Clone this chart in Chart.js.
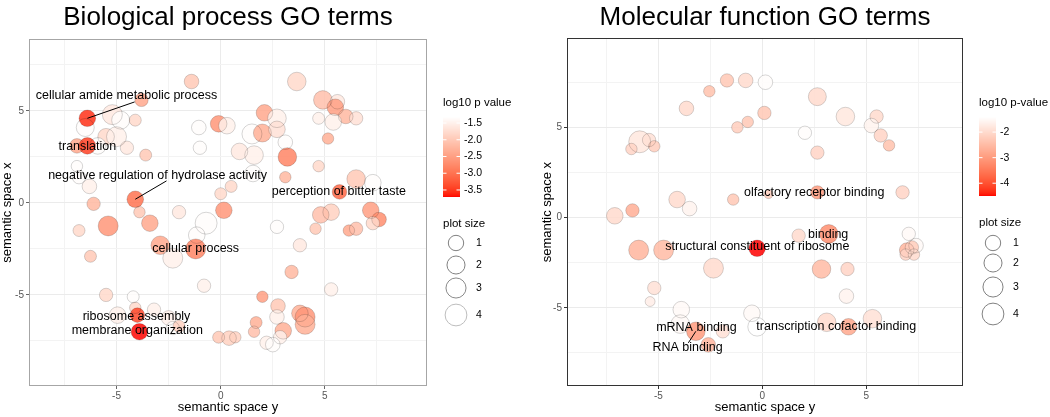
<!DOCTYPE html>
<html>
<head>
<meta charset="utf-8">
<script src="https://cdn.jsdelivr.net/npm/chart.js@4.4.1/dist/chart.umd.min.js"></script>
<style>
body { margin: 0; background: #fff; }
#wrap { position: relative; width: 1050px; height: 417px; }
canvas { position: absolute; top: 0; }
</style>
</head>
<body>
<div id="wrap">
  <canvas id="bp" width="525" height="417" style="left:0"></canvas>
  <canvas id="mf" width="525" height="417" style="left:525px"></canvas>
</div>
<script>
var FONT = "'Liberation Sans', Arial, Helvetica, sans-serif";

// Biological process GO terms (labelled terms are the last 7 points)
var bpX = [-1.4, -3.8, -6.5, -5.2, -4.8, -4.1, -6.9, -5.5, -5.0, -4.5, -5.9, -6.9, -3.6, -6.3, -6.8, -6.1,
  -3.9, -2.0, -0.7, -1.0, -1.05, -0.1, 0.3, 1.5, 2.0, 2.1, 0.9, 1.6, 1.55, 0.5, 0.0, 0.15, -1.15,
  3.65, 4.9, 5.6, 5.5, 6.0, 5.4, 4.7, 6.5, 5.15, 2.7, 2.7, 3.1, 3.2, 4.7, 3.1, 6.5, 7.3, 7.2, 7.6, 5.3, 4.8, 2.7,
  -6.8, -5.4, -3.4, -2.9, -2.3, -6.25, -0.8, -5.5, -4.2, -4.1, -3.2, -4.95, -2.5, -2.3, -2.0,
  -0.1, 0.4, 0.7, 1.7, 1.6, 2.0, 2.75, 2.7, 3.0, 2.85, 2.2, 2.5, 3.8, 4.05, 4.05, 5.3, 3.4, 3.8, 4.55, 6.15, 6.5, 7.3,
  -6.4, -6.4, -4.1, 5.7, -1.2, -4.0, -3.9];
var bpY = [6.6, 5.6, 4.1, 4.8, 4.5, 4.5, 3.1, 3.6, 3.6, 3.0, 3.1, 2.0, 2.6, 0.9, 1.4, -0.05,
  -0.5, -0.5, -1.1, 3.0, 4.1, 4.3, 4.2, 3.75, 3.8, 4.9, 2.8, 2.6, 1.6, 0.9, 0.5, -0.4, -1.75,
  6.6, 5.6, 5.5, 5.2, 4.7, 4.4, 4.6, 4.6, 3.5, 4.6, 4.0, 3.3, 2.5, 2.0, 1.4, 1.3, 1.1, -0.4, -0.9, -0.5, -0.65, -1.3,
  -1.5, -1.25, -1.1, -2.3, -3.0, -2.9, -4.5, -5.0, -5.1, -5.7, -5.8, -6.1, -6.25, -6.8, -6.7,
  -7.3, -7.35, -7.3, -6.5, -7.0, -5.1, -5.6, -6.2, -6.95, -7.3, -7.6, -7.7, -6.0, -6.2, -6.6, -4.7, -3.75, -2.3, -1.4, -1.5, -1.4, -1.1,
  4.6, 3.1, 0.2, 0.6, -2.5, -6.1, -7.0];
var bpLogP = [-2.0, -2.4, -1.35, -1.6, -1.35, -1.8, -2.4, -1.8, -1.5, -1.6, -1.35, -1.35, -2.0, -1.5, -1.35, -2.2,
  -2.0, -1.6, -1.35, -1.35, -1.35, -2.6, -1.5, -1.35, -2.3, -2.4, -1.6, -1.5, -1.35, -1.8, -1.8, -2.6, -1.35,
  -1.8, -2.1, -1.6, -2.5, -2.2, -1.5, -1.5, -1.7, -2.3, -1.5, -1.7, -1.35, -2.8, -1.8, -2.2, -2.0, -1.35, -2.5, -2.7, -1.9, -2.1, -1.35,
  -1.8, -2.6, -2.4, -2.4, -1.5, -2.0, -1.5, -1.8, -1.35, -1.8, -1.5, -1.5, -1.5, -1.35, -1.9,
  -2.0, -1.9, -1.9, -2.3, -2.1, -2.5, -2.0, -1.5, -2.3, -1.5, -1.5, -1.35, -2.3, -2.6, -2.3, -1.5, -2.2, -1.6, -2.0, -2.4, -2.1, -1.8,
  -3.55, -3.45, -3.0, -3.1, -2.8, -3.4, -3.7];
var bpSize = [0.77, 0.47, 1.98, 2.95, 1.98, 0.22, 0.77, 1.41, 2.95, 0.47, 1.41, 0.15, 0.22, 0.77, 0.47, 0.47,
  0.15, 0.47, 4.1, 0.47, 0.77, 1.41, 1.41, 2.95, 1.98, 1.41, 1.41, 2.25, 1.41, 0.22, 0.22, 1.41, 1.41,
  2.25, 2.25, 0.77, 1.41, 0.77, 1.41, 0.22, 0.47, 0.15, 2.25, 1.41, 0.77, 2.25, 0.15, 0.15, 2.25, 1.41, 1.41, 0.77, 1.41, 1.41, 0.47,
  0.22, 2.95, 1.41, 2.25, 2.95, 0.22, 0.47, 0.47, 0.22, 0.15, 0.47, 1.41, 0.77, 0.47, 0.22,
  0.22, 0.77, 0.15, 0.22, 0.15, 0.15, 0.77, 0.77, 1.41, 0.47, 0.47, 0.77, 1.41, 2.95, 2.95, 0.47, 0.47, 0.47, 0.15, 0.15, 0.47, 0.47,
  1.41, 1.41, 1.41, 0.77, 2.95, 0.77, 1.41];
var bpLabelText = ["cellular amide metabolic process", "translation", "negative regulation of hydrolase activity",
  "perception of bitter taste", "cellular process", "ribosome assembly", "membrane organization"];
var bpLabelX = [-4.52, -6.4, -3.03, 5.67, -1.2, -4.04, -4.0];
var bpLabelY = [5.82, 3.04, 1.47, 0.6, -2.5, -6.2, -6.96];
var bpSegX = [-4.13, null, -2.6, null, null, null, null];
var bpSegY = [5.49, null, 1.2, null, null, null, null];
var bpColorTicks = ["-1.5", "-2.0", "-2.5", "-3.0", "-3.5"];

// Molecular function GO terms (labelled terms are the last 6 points)
var mfX = [-1.7, -0.8, 0.15, -2.55, -3.65, 0.1, -1.2, -0.7, -5.9, -5.45, -5.2, -6.3, -4.1, -3.5, -1.4, 0.3, -7.1, -6.25,
  2.65, 4.0, 2.05, 5.5, 5.25, 5.7, 6.1, 2.65, 6.75, -5.95, -4.75, -2.35, -5.2, -5.4, -3.9, -3.95, -1.9, -0.5, -0.25,
  1.75, 2.85, 4.1, 4.05, 7.05, 7.4, 6.95, 7.2, 6.9, 7.3, 3.1, 5.3,
  2.65, 3.2, -0.25, -2.6, -3.2, 4.15];
var mfY = [7.6, 7.6, 7.5, 7.0, 6.05, 5.8, 5.0, 5.3, 4.2, 4.3, 3.95, 3.8, 1.0, 0.5, 1.0, 1.3, 0.1, 0.4,
  6.7, 5.6, 4.7, 5.6, 5.1, 4.55, 4.0, 3.6, 1.4, -1.8, -1.8, -2.8, -3.9, -4.65, -5.1, -5.9, -6.3, -5.3, -6.05,
  -1.0, -2.85, -2.85, -4.35, -0.9, -1.55, -1.8, -1.65, -2.05, -2.05, -5.8, -5.6,
  1.4, -0.9, -1.7, -7.05, -6.3, -6.05];
var mfLogP = [-2.3, -2.0, -1.45, -2.4, -2.0, -2.3, -2.2, -2.3, -1.8, -1.9, -2.2, -2.1, -2.0, -1.6, -2.3, -2.2, -2.0, -2.7,
  -2.0, -1.8, -1.45, -2.0, -1.6, -2.1, -2.4, -2.1, -2.1, -2.6, -2.5, -2.0, -1.9, -1.7, -1.5, -1.5, -1.9, -1.5, -1.41,
  -2.0, -2.5, -2.1, -1.6, -1.5, -1.5, -2.6, -2.2, -2.1, -2.0, -2.0, -1.9,
  -3.0, -3.2, -4.5, -2.6, -3.0, -2.8];
var mfSize = [0.47, 0.77, 0.77, 0.15, 0.77, 0.47, 0.15, 0.15, 4.1, 0.47, 0.15, 0.15, 1.41, 0.77, 0.15, 0.0, 1.41, 0.47,
  1.98, 2.25, 0.47, 0.47, 0.77, 0.47, 0.15, 0.47, 0.47, 2.95, 2.95, 2.95, 0.47, 0.02, 1.41, 2.25, 0.47, 1.41, 2.25,
  0.47, 2.25, 0.47, 0.77, 0.47, 0.77, 0.77, 0.47, 0.15, 0.15, 2.25, 2.25,
  0.47, 2.25, 1.41, 0.77, 2.25, 1.41];
var mfLabelText = ["olfactory receptor binding", "binding", "structural constituent of ribosome",
  "mRNA binding", "RNA binding", "transcription cofactor binding"];
var mfLabelX = [2.5, 3.17, -0.24, -3.17, -3.6, 3.56];
var mfLabelY = [1.39, -0.94, -1.61, -6.11, -7.22, -6.06];
var mfSegX = [null, null, null, null, -3.56, null];
var mfSegY = [null, null, null, null, -6.94, null];
var mfColorTicks = ["-2", "-3", "-4"];

var sizeLegend = [1, 2, 3, 4];

function radius(s) { return 4.5 + 3.2 * Math.sqrt(Math.max(s, 0)); }

// white -> red gradient in Lab space (as ggplot does)
function lab2rgb(L, a, b) {
  var y = (L + 16) / 116, x = a / 500 + y, z = y - b / 200;
  function f(t) { return t * t * t > 0.008856 ? t * t * t : (t - 16 / 116) / 7.787; }
  x = 0.95047 * f(x); y = f(y); z = 1.08883 * f(z);
  var r = x * 3.2406 - y * 1.5372 - z * 0.4986;
  var g = -x * 0.9689 + y * 1.8758 + z * 0.0415;
  var bl = x * 0.0557 - y * 0.2040 + z * 1.0570;
  function gam(c) {
    c = c > 0.0031308 ? 1.055 * Math.pow(c, 1 / 2.4) - 0.055 : 12.92 * c;
    return Math.round(Math.max(0, Math.min(1, c)) * 255);
  }
  return [gam(r), gam(g), gam(bl)];
}
function fillColor(v, lo, hi, alpha) {
  var t = Math.max(0, Math.min(1, (hi - v) / (hi - lo)));
  var c = lab2rgb(100 - 46.76 * t, 80.09 * t, 67.20 * t);
  return 'rgba(' + c[0] + ',' + c[1] + ',' + c[2] + ',' + alpha + ')';
}

function axis(min, max, title, isY, width, tickColor) {
  var major = function (ctx) { return ctx.tick && ctx.tick.value % 5 === 0; };
  return {
    type: 'linear', min: min, max: max,
    afterBuildTicks: function (s) {
      s.ticks = [-7.5, -5, -2.5, 0, 2.5, 5, 7.5].map(function (v) { return {value: v}; });
    },
    afterFit: function (s) { if (isY) s.width = width; else s.height = 31; },
    ticks: {
      color: '#555', font: {size: 10, family: FONT}, padding: isY ? 2 : 1,
      autoSkip: false, maxRotation: 0,
      callback: function (v) { return v % 5 === 0 ? String(v) : ''; }
    },
    grid: {
      color: function (ctx) { return major(ctx) ? '#EBEBEB' : '#F3F3F3'; },
      lineWidth: 1, tickLength: 3,
      tickColor: function (ctx) { return major(ctx) ? tickColor : 'rgba(0,0,0,0)'; }
    },
    border: {display: false},
    title: {display: true, text: title, color: '#000', font: {size: 13, family: FONT},
      padding: isY ? {top: 0, bottom: 0} : {top: 0, bottom: 2}}
  };
}

function makeChart(id, d, lay) {
  var n = d.x.length, nl = d.labels.length;
  function pts() { return d.x.map(function (x, i) { return {x: x, y: d.y[i], r: radius(d.size[i])}; }); }
  var fills = d.logp.map(function (v) { return fillColor(v, d.pmin, d.pmax, 0.85); });

  var overlay = {
    id: 'overlay',
    afterDatasetsDraw: function (chart) {
      var c = chart.ctx, a = chart.chartArea, xs = chart.scales.x, ys = chart.scales.y;
      c.save();
      c.strokeStyle = lay.frame; c.lineWidth = 1;
      c.strokeRect(Math.round(a.left) + 0.5, Math.round(a.top) + 0.5,
        Math.round(a.right - a.left) - 1, Math.round(a.bottom - a.top) - 1);
      c.strokeStyle = '#000'; c.lineWidth = 1;
      for (var i = 0; i < nl; i++) {
        if (d.segX[i] === null) continue;
        var p = n - nl + i;
        c.beginPath();
        c.moveTo(xs.getPixelForValue(d.x[p]), ys.getPixelForValue(d.y[p]));
        c.lineTo(xs.getPixelForValue(d.segX[i]), ys.getPixelForValue(d.segY[i]));
        c.stroke();
      }
      c.fillStyle = '#000'; c.font = '12.5px ' + FONT;
      c.textAlign = 'center'; c.textBaseline = 'middle';
      for (i = 0; i < nl; i++) {
        c.fillText(d.labels[i], xs.getPixelForValue(d.labelX[i]), ys.getPixelForValue(d.labelY[i]));
      }
      c.restore();
    },
    afterDraw: function (chart) {
      var c = chart.ctx, top = 117, h = lay.cbBottom - top, w = 17, x0 = lay.legX;
      c.save();
      c.textAlign = 'left'; c.textBaseline = 'middle';
      c.fillStyle = '#000'; c.font = '11.5px ' + FONT;
      c.fillText(d.cbTitle, x0, 103);
      for (var k = 0; k < h; k++) {
        var v = d.pmax - (k + 0.5) / h * (d.pmax - d.pmin);
        c.fillStyle = fillColor(v, d.pmin, d.pmax, 1);
        c.fillRect(x0, top + k, w, 1);
      }
      c.font = '10.5px ' + FONT;
      d.cbTicks.forEach(function (lab) {
        var y = top + (d.pmax - parseFloat(lab)) / (d.pmax - d.pmin) * h;
        c.strokeStyle = '#fff'; c.lineWidth = 1;
        c.beginPath();
        c.moveTo(x0, y); c.lineTo(x0 + 3.5, y);
        c.moveTo(x0 + w - 3.5, y); c.lineTo(x0 + w, y);
        c.stroke();
        c.fillStyle = '#000';
        c.fillText(lab, x0 + 21, y);
      });
      c.font = '11.5px ' + FONT;
      c.fillText('plot size', x0, lay.sizeTitleY);
      sizeLegend.forEach(function (s, j) {
        c.beginPath();
        c.arc(x0 + lay.circDx, lay.circY[j], radius(s), 0, Math.PI * 2);
        c.strokeStyle = lay.circColor[j]; c.lineWidth = 1;
        c.stroke();
        c.fillStyle = '#000'; c.font = '10.5px ' + FONT;
        c.fillText(String(s), x0 + lay.circDx + 20, lay.circY[j]);
      });
      c.restore();
    }
  };

  return new Chart(document.getElementById(id), {
    type: 'bubble',
    data: {
      datasets: [
        {data: pts(), backgroundColor: 'rgba(0,0,0,0)', borderColor: 'rgba(0,0,0,0.16)', borderWidth: 1},
        {data: pts(), backgroundColor: fills, borderWidth: 0}
      ]
    },
    options: {
      responsive: false, animation: false, events: [],
      layout: {padding: {left: lay.padLeft, right: lay.padRight, top: 0, bottom: 0}},
      plugins: {
        legend: {display: false},
        tooltip: {enabled: false},
        title: {display: true, text: d.title, fullSize: false, color: '#000',
          font: {size: 26, family: FONT, weight: 'normal'}, padding: {top: 2, bottom: lay.titleGap}}
      },
      scales: {
        x: axis(d.xmin, d.xmax, 'semantic space y', false, 0, lay.tick),
        y: axis(d.ymin, d.ymax, 'semantic space x', true, lay.yWidth, lay.tick)
      }
    },
    plugins: [overlay]
  });
}

makeChart('bp', {
  title: 'Biological process GO terms', cbTitle: 'log10 p value',
  x: bpX, y: bpY, logp: bpLogP, size: bpSize,
  labels: bpLabelText, labelX: bpLabelX, labelY: bpLabelY, segX: bpSegX, segY: bpSegY,
  cbTicks: bpColorTicks, pmin: -3.71, pmax: -1.32,
  xmin: -9.2, xmax: 9.9, ymin: -9.95, ymax: 8.9
}, {
  padLeft: 0, yWidth: 29, padRight: 98, titleGap: 6, frame: '#A6A6A6', tick: '#666',
  legX: 443, cbBottom: 197, sizeTitleY: 224, circDx: 13, circY: [243, 265, 288, 315],
  circColor: ['#808080', '#808080', '#8a8a8a', '#bdbdbd']
});

makeChart('mf', {
  title: 'Molecular function GO terms', cbTitle: 'log10 p-value',
  x: mfX, y: mfY, logp: mfLogP, size: mfSize,
  labels: mfLabelText, labelX: mfLabelX, labelY: mfLabelY, segX: mfSegX, segY: mfSegY,
  cbTicks: mfColorTicks, pmin: -4.5, pmax: -1.41,
  xmin: -9.4, xmax: 9.66, ymin: -9.33, ymax: 9.94
}, {
  padLeft: 15, yWidth: 27, padRight: 87, titleGap: 5, frame: '#333333', tick: '#333',
  legX: 454, cbBottom: 196, sizeTitleY: 223, circDx: 14, circY: [243, 263, 287, 314],
  circColor: ['#808080', '#808080', '#808080', '#808080']
});
</script>
</body>
</html>
